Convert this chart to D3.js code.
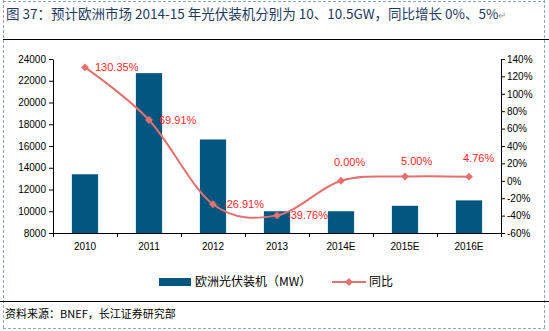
<!DOCTYPE html>
<html>
<head>
<meta charset="utf-8">
<script src="https://d3js.org/d3.v7.min.js"></script>
<style>
  body { margin: 0; background: #fff; }
  svg text { font-family: "Liberation Sans", Arial, sans-serif; }
  .cjk { font-family: "Noto Sans CJK SC", "Liberation Sans", sans-serif; }
</style>
</head>
<body>
<div id="chart"></div>
<script>
// data
const years = ["2010", "2011", "2012", "2013", "2014E", "2015E", "2016E"];
const installs = [13400, 22700, 16600, 10000, 10000, 10500, 11000];
const growth = [130.35, 69.91, -26.91, -39.76, 0.00, 5.00, 4.76];
const leftTicks = [8000, 10000, 12000, 14000, 16000, 18000, 20000, 22000, 24000];
const rightTicks = [-60, -40, -20, 0, 20, 40, 60, 80, 100, 120, 140];

const W = 549, H = 331;
const margin = {top: 59, right: 48, bottom: 98, left: 53};
const w = W - margin.left - margin.right;
const h = H - margin.top - margin.bottom;

const barColor = "#02567F", lineColor = "#E2716F", labColor = "#FF1F1F";

const svg = d3.select("#chart").append("svg")
  .attr("width", W).attr("height", H);

// frame
const dash = "#8FA3C4";
svg.append("line").attr("x1", 3.5).attr("x2", 3.5).attr("y1", 0).attr("y2", 328)
  .attr("stroke", dash).attr("stroke-dasharray", "3,2");
svg.append("line").attr("x1", 544.5).attr("x2", 544.5).attr("y1", 0).attr("y2", 328)
  .attr("stroke", dash).attr("stroke-dasharray", "3,2");
svg.append("line").attr("x1", 3).attr("x2", 545).attr("y1", 328.5).attr("y2", 328.5)
  .attr("stroke", dash).attr("stroke-dasharray", "3,2");
svg.append("line").attr("x1", 3).attr("x2", 545).attr("y1", 1.5).attr("y2", 1.5)
  .attr("stroke", dash).attr("stroke-dasharray", "3,2");

const title = svg.append("text").attr("class", "cjk")
  .attr("x", 6).attr("y", 19)
  .attr("font-size", "13.5px").attr("fill", "#1F3A5F");
title.append("tspan").text("图 37：预计欧洲市场 2014-15 年光伏装机分别为 10、10.5GW，同比增长 0%、5%");
title.append("tspan").attr("fill", "#999").attr("font-size", "10px").text("↵");
svg.append("line").attr("x1", 3).attr("x2", 549).attr("y1", 39.5).attr("y2", 39.5)
  .attr("stroke", "#000").attr("stroke-width", 1);

svg.append("line").attr("x1", 0).attr("x2", 549).attr("y1", 301.5).attr("y2", 301.5)
  .attr("stroke", "#000").attr("stroke-width", 1);
svg.append("text").attr("class", "cjk")
  .attr("x", 5).attr("y", 318)
  .attr("font-size", "11px").attr("fill", "#000")
  .text("资料来源：BNEF，长江证券研究部");

const g = svg.append("g")
  .attr("transform", "translate(" + margin.left + "," + margin.top + ")");

const x = d3.scaleBand().domain(years).range([0, w]).paddingInner(0.59).paddingOuter(0.295);
const xEdge = d3.scaleLinear().domain([0, years.length]).range([0, w]);
const xc = d => x(d) + x.bandwidth() / 2;

const yL = d3.scaleLinear().domain([8000, 24000]).range([h, 0]);
const yR = d3.scaleLinear().domain([-60, 140]).range([h, 0]);

// bars
g.selectAll("rect.bar").data(years).enter().append("rect")
  .attr("class", "bar")
  .attr("x", d => x(d))
  .attr("width", x.bandwidth())
  .attr("y", (d, i) => yL(installs[i]))
  .attr("height", (d, i) => h - yL(installs[i]))
  .attr("fill", barColor);

// axes
const styleAxis = sel => {
  sel.select(".domain").attr("stroke", "#000");
  sel.selectAll(".tick line").attr("stroke", "#000");
  sel.selectAll(".tick text").attr("fill", "#000").attr("font-size", "10px")
    .attr("font-family", "'Liberation Sans', Arial, sans-serif");
};

g.append("g")
  .call(d3.axisLeft(yL).tickValues(leftTicks).tickSizeInner(4).tickSizeOuter(0).tickPadding(3)
    .tickFormat(d3.format("d")))
  .call(styleAxis);

g.append("g").attr("transform", "translate(" + w + ",0)")
  .call(d3.axisRight(yR).tickValues(rightTicks).tickSizeInner(4).tickSizeOuter(0).tickPadding(2)
    .tickFormat(d => d + "%"))
  .call(styleAxis);

g.append("g").attr("transform", "translate(0," + h + ")")
  .call(d3.axisBottom(xEdge).ticks(years.length).tickSizeInner(4).tickSizeOuter(0).tickFormat(""))
  .call(styleAxis);

g.append("g").attr("transform", "translate(0," + h + ")")
  .call(d3.axisBottom(x).tickSize(0).tickPadding(10))
  .call(styleAxis)
  .call(a => a.select(".domain").remove());

// growth line
const pts = years.map((d, i) => [xc(d), yR(growth[i])]);
g.append("path")
  .attr("d", d3.line().curve(d3.curveCatmullRom.alpha(0))(pts))
  .attr("fill", "none").attr("stroke", lineColor).attr("stroke-width", 2);

const diamond = d3.symbol().type(d3.symbolDiamond2).size(40);
g.selectAll("path.mk").data(pts).enter().append("path")
  .attr("class", "mk")
  .attr("transform", p => "translate(" + p[0] + "," + p[1] + ")")
  .attr("d", diamond).attr("fill", lineColor);

// value labels
const labOff = [[10, 0], [10, 0], [10, 0], [10, 0], [-7, -19], [-4, -15], [-6, -19]];
g.selectAll("text.val").data(growth).enter().append("text")
  .attr("class", "val")
  .attr("x", (d, i) => pts[i][0] + labOff[i][0])
  .attr("y", (d, i) => pts[i][1] + labOff[i][1])
  .attr("dy", "0.35em")
  .attr("font-size", "11px").attr("fill", labColor)
  .text(d => d.toFixed(2) + "%");

// legend
const lg = svg.append("g").attr("transform", "translate(159,282)");
lg.append("rect").attr("x", 0).attr("y", -4).attr("width", 32).attr("height", 8).attr("fill", barColor);
lg.append("text").attr("class", "cjk").attr("x", 36).attr("y", 0).attr("dy", "0.35em")
  .attr("font-size", "12px").attr("fill", "#000").text("欧洲光伏装机（MW）");
lg.append("line").attr("x1", 173).attr("x2", 207).attr("y1", 0).attr("y2", 0)
  .attr("stroke", lineColor).attr("stroke-width", 2);
lg.append("path").attr("transform", "translate(190,0)").attr("d", diamond).attr("fill", lineColor);
lg.append("text").attr("class", "cjk").attr("x", 210).attr("y", 0).attr("dy", "0.35em")
  .attr("font-size", "12px").attr("fill", "#000").text("同比");
</script>
</body>
</html>
